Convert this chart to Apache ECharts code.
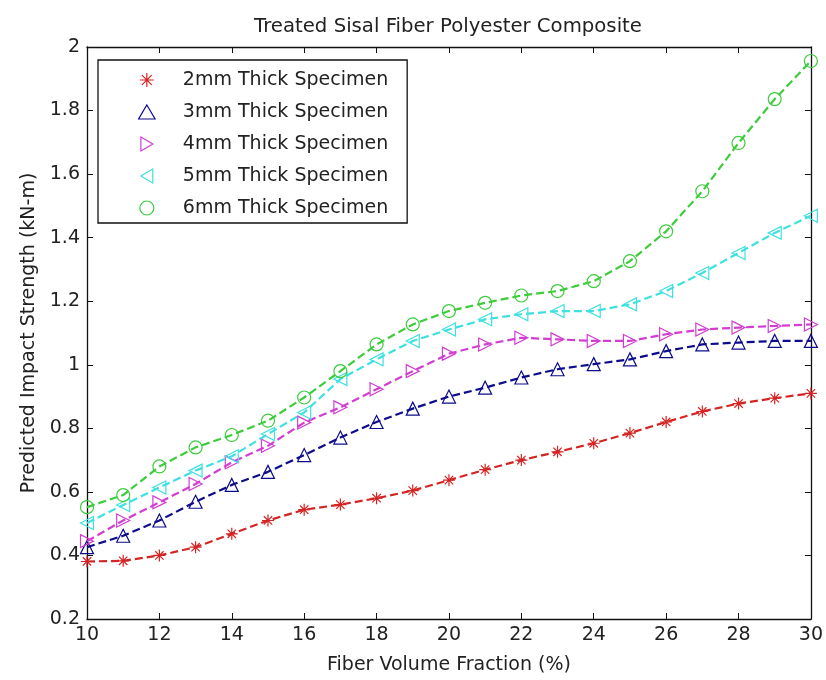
<!DOCTYPE html>
<html>
<head>
<meta charset="utf-8">
<script src="https://cdn.jsdelivr.net/npm/echarts@6/dist/echarts.min.js"></script>
<style>html,body{margin:0;padding:0;background:#fff}#c{width:826px;height:680px}</style>
</head>
<body>
<div id="c"></div>
<script>
var xValues = [10,11,12,13,14,15,16,17,18,19,20,21,22,23,24,25,26,27,28,29,30];
var s2mm = [0.381,0.383,0.400,0.426,0.468,0.510,0.544,0.560,0.580,0.604,0.637,0.670,0.700,0.726,0.753,0.785,0.820,0.853,0.878,0.895,0.910];
var s3mm = [0.426,0.462,0.510,0.569,0.622,0.663,0.716,0.771,0.820,0.862,0.900,0.928,0.960,0.986,1.002,1.017,1.043,1.064,1.070,1.075,1.075];
var s4mm = [0.445,0.510,0.567,0.625,0.693,0.745,0.818,0.866,0.923,0.980,1.035,1.064,1.085,1.080,1.075,1.075,1.096,1.111,1.117,1.122,1.127];
var s5mm = [0.502,0.559,0.614,0.667,0.712,0.782,0.850,0.955,1.017,1.075,1.111,1.143,1.159,1.169,1.169,1.190,1.232,1.289,1.352,1.415,1.469];
var s6mm = [0.552,0.590,0.680,0.740,0.779,0.824,0.897,0.980,1.064,1.127,1.169,1.195,1.218,1.232,1.263,1.326,1.420,1.546,1.698,1.836,1.956];
var seriesNames = ['2mm Thick Specimen','3mm Thick Specimen','4mm Thick Specimen','5mm Thick Specimen','6mm Thick Specimen'];
var titleText = 'Treated Sisal Fiber Polyester Composite';
var xTitle = 'Fiber Volume Fraction (%)';
var yTitle = 'Predicted Impact Strength (kN-m)';

var colors = ['#d42424','#0c0c8c','#d23ed2','#3ee0e0','#3ccc3c'];
var symbols = [
  'path://M0,-10L0,10M-10,0L10,0M-7,-7L7,7M-7,7L7,-7',
  'path://M10,0L20,17L0,17Z',
  'path://M0,0L17,10L0,20Z',
  'path://M17,0L0,10L17,20Z',
  'circle'
];
var allData = [s2mm, s3mm, s4mm, s5mm, s6mm];
var FONT = 'DejaVu Sans';
var FS = 19;

var series = allData.map(function (vals, i) {
  return {
    name: seriesNames[i],
    type: 'line',
    data: xValues.map(function (x, k) { return [x, vals[k]]; }),
    symbol: symbols[i],
    symbolSize: i === 0 ? 12 : 13,
    showSymbol: true,
    lineStyle: { color: colors[i], width: 2.2, type: [8, 4] },
    itemStyle: { color: 'rgba(255,255,255,0)', borderColor: colors[i], borderWidth: 1.2 },
    emphasis: { disabled: true },
    z: 2 + i
  };
});

var chart = echarts.init(document.getElementById('c'), null, { renderer: 'canvas' });
chart.setOption({
  backgroundColor: '#ffffff',
  animation: false,
  title: {
    text: titleText,
    left: 443, top: 12, textAlign: 'center',
    textStyle: { fontFamily: FONT, fontSize: 19.7, fontWeight: 'normal', color: '#222' }
  },
  legend: {
    orient: 'vertical',
    left: 98, top: 60,
    padding: [9, 19, 4, 40],
    itemWidth: 62, itemHeight: 14, itemGap: 10,
    borderColor: '#111', borderWidth: 1.3,
    backgroundColor: '#fff',
    textStyle: { fontFamily: FONT, fontSize: FS, color: '#222', lineHeight: 22 },
    data: seriesNames.map(function (n, i) {
      return { name: n, icon: symbols[i], itemStyle: { color: 'rgba(255,255,255,0)', borderColor: colors[i], borderWidth: 1.2 } };
    })
  },
  grid: { left: 87, right: 10, top: 47, bottom: 60, containLabel: false },
  xAxis: [{
    type: 'value', min: 10, max: 30, interval: 2, position: 'bottom',
    name: xTitle, nameLocation: 'middle', nameGap: 37,
    nameTextStyle: { fontFamily: FONT, fontSize: FS, color: '#222' },
    axisLine: { lineStyle: { color: '#111', width: 1.3 } },
    axisTick: { inside: true, length: 6, lineStyle: { color: '#111' } },
    axisLabel: { fontFamily: FONT, fontSize: FS, color: '#222', margin: 7 },
    splitLine: { show: false }
  }, {
    type: 'value', min: 10, max: 30, interval: 2, position: 'top',
    axisLine: { lineStyle: { color: '#111', width: 1.3 } },
    axisTick: { inside: true, length: 6, lineStyle: { color: '#111' } },
    axisLabel: { show: false },
    splitLine: { show: false }
  }],
  yAxis: [{
    type: 'value', min: 0.2, max: 2, interval: 0.2, position: 'left',
    name: yTitle, nameLocation: 'middle', nameGap: 48,
    nameTextStyle: { fontFamily: FONT, fontSize: FS, color: '#222' },
    axisLine: { show: true, lineStyle: { color: '#111', width: 1.3 } },
    axisTick: { show: true, inside: true, length: 6, lineStyle: { color: '#111' } },
    axisLabel: { fontFamily: FONT, fontSize: FS, color: '#222', margin: 7,
      formatter: function (v) { return String(Math.round(v * 10) / 10); } },
    splitLine: { show: false }
  }, {
    type: 'value', min: 0.2, max: 2, interval: 0.2, position: 'right',
    axisLine: { show: true, lineStyle: { color: '#111', width: 1.3 } },
    axisTick: { show: true, inside: true, length: 6, lineStyle: { color: '#111' } },
    axisLabel: { show: false },
    splitLine: { show: false }
  }],
  series: series
});
</script>
</body>
</html>
